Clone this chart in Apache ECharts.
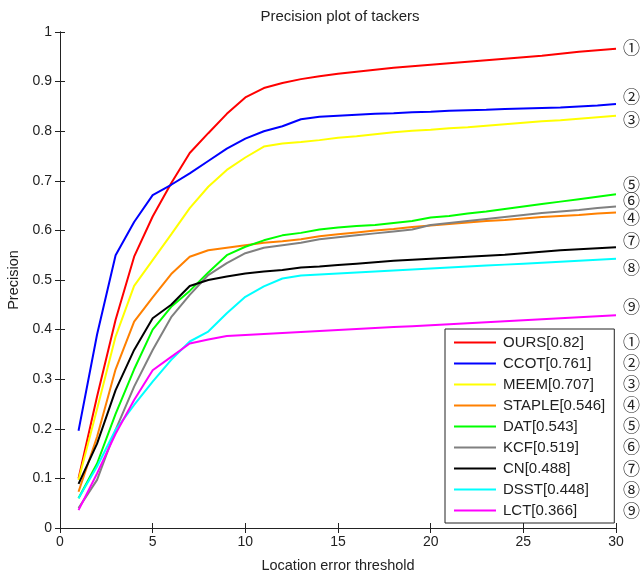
<!DOCTYPE html>
<html>
<head>
<meta charset="utf-8">
<script src="https://cdn.jsdelivr.net/npm/echarts@6/dist/echarts.min.js"></script>
<style>
  html, body { margin: 0; padding: 0; background: #fff; }
  #main { width: 642px; height: 574px; }
</style>
</head>
<body>
<div id="main"></div>
<script>
// location error thresholds (x)
const thresholds = [1, 2, 3, 4, 5, 6, 7, 8, 9, 10, 11, 12, 13, 14, 15, 16, 17, 18, 19, 20, 21, 22, 23, 24, 25, 26, 27, 28, 29, 30];

// precision values
const ours   = [0.100, 0.265, 0.420, 0.547, 0.628, 0.695, 0.756, 0.796, 0.835, 0.868, 0.887, 0.897, 0.905, 0.911, 0.916, 0.920, 0.924, 0.928, 0.931, 0.934, 0.937, 0.940, 0.943, 0.946, 0.949, 0.952, 0.956, 0.960, 0.963, 0.966];
const ccot   = [0.196, 0.390, 0.550, 0.617, 0.671, 0.692, 0.715, 0.740, 0.765, 0.785, 0.800, 0.810, 0.824, 0.829, 0.831, 0.833, 0.835, 0.836, 0.838, 0.839, 0.841, 0.842, 0.843, 0.845, 0.846, 0.847, 0.848, 0.850, 0.852, 0.855];
const meem   = [0.097, 0.240, 0.386, 0.488, 0.540, 0.592, 0.645, 0.688, 0.722, 0.747, 0.769, 0.775, 0.778, 0.782, 0.787, 0.790, 0.794, 0.798, 0.801, 0.803, 0.806, 0.808, 0.811, 0.814, 0.817, 0.820, 0.822, 0.825, 0.828, 0.831];
const staple = [0.073, 0.184, 0.320, 0.416, 0.465, 0.512, 0.547, 0.560, 0.565, 0.570, 0.575, 0.578, 0.582, 0.588, 0.592, 0.596, 0.600, 0.603, 0.607, 0.610, 0.613, 0.616, 0.619, 0.621, 0.624, 0.627, 0.629, 0.631, 0.634, 0.636];
const dat    = [0.060, 0.130, 0.230, 0.320, 0.400, 0.446, 0.478, 0.515, 0.550, 0.567, 0.580, 0.590, 0.595, 0.602, 0.606, 0.609, 0.611, 0.615, 0.619, 0.626, 0.629, 0.634, 0.638, 0.643, 0.648, 0.653, 0.658, 0.663, 0.668, 0.673];
const kcf    = [0.040, 0.097, 0.198, 0.285, 0.359, 0.425, 0.470, 0.510, 0.534, 0.554, 0.565, 0.570, 0.575, 0.582, 0.586, 0.590, 0.594, 0.598, 0.602, 0.611, 0.615, 0.619, 0.623, 0.627, 0.631, 0.635, 0.638, 0.641, 0.645, 0.648];
const cn     = [0.089, 0.170, 0.278, 0.359, 0.423, 0.450, 0.488, 0.500, 0.507, 0.513, 0.517, 0.520, 0.525, 0.527, 0.530, 0.533, 0.536, 0.539, 0.541, 0.543, 0.545, 0.547, 0.549, 0.551, 0.554, 0.557, 0.560, 0.562, 0.564, 0.566];
const dsst   = [0.060, 0.124, 0.198, 0.248, 0.295, 0.339, 0.376, 0.396, 0.433, 0.466, 0.487, 0.503, 0.509, 0.511, 0.513, 0.515, 0.517, 0.519, 0.521, 0.523, 0.525, 0.527, 0.529, 0.531, 0.533, 0.535, 0.537, 0.539, 0.541, 0.543];
const lct    = [0.036, 0.110, 0.190, 0.258, 0.318, 0.345, 0.372, 0.380, 0.387, 0.389, 0.391, 0.393, 0.395, 0.397, 0.399, 0.401, 0.403, 0.405, 0.407, 0.409, 0.411, 0.413, 0.415, 0.417, 0.419, 0.421, 0.423, 0.425, 0.427, 0.429];

const trackerNames = ['OURS[0.82]', 'CCOT[0.761]', 'MEEM[0.707]', 'STAPLE[0.546]', 'DAT[0.543]', 'KCF[0.519]', 'CN[0.488]', 'DSST[0.448]', 'LCT[0.366]'];
const trackerData = [ours, ccot, meem, staple, dat, kcf, cn, dsst, lct];
const colors = ['#ff0000', '#0000ff', '#ffff00', '#ff8000', '#00ff00', '#808080', '#000000', '#00ffff', '#ff00ff'];

// circled rank marks, right of the plot
const endMarks = ['①', '②', '③', '⑤', '⑥', '④', '⑦', '⑧', '⑨'];
const endMarkY = [48, 97, 120, 185, 201, 218, 241, 268, 307];
const legendMarks = ['①', '②', '③', '④', '⑤', '⑥', '⑦', '⑧', '⑨'];

const font = 'Liberation Sans, Arial, sans-serif';
const chart = echarts.init(document.getElementById('main'), null, { renderer: 'canvas' });

const series = trackerNames.map((name, i) => ({
    name: name,
    type: 'line',
    symbol: 'none',
    data: thresholds.map((t, j) => [t, trackerData[i][j]]),
    lineStyle: { color: colors[i], width: 2 },
    itemStyle: { color: colors[i] }
}));

const graphics = [];
endMarks.forEach((m, i) => {
    graphics.push({ type: 'text', left: 623, top: endMarkY[i] - 9,
        style: { text: m, font: '17px "Noto Sans CJK SC"', fill: '#222' } });
});
legendMarks.forEach((m, i) => {
    graphics.push({ type: 'text', left: 623, top: 342 + i * 21.1 - 9,
        style: { text: m, font: '17px "Noto Sans CJK SC"', fill: '#222' } });
});

chart.setOption({
    animation: false,
    backgroundColor: '#fff',
    title: {
        text: 'Precision plot of tackers',
        left: 335, top: 4, textAlign: 'center',
        textStyle: { fontFamily: font, fontSize: 15, fontWeight: 'normal', color: '#222' }
    },
    grid: { left: 60, top: 32, right: 26, bottom: 46, outerBoundsMode: 'none' },
    legend: {
        orient: 'vertical',
        left: 445, top: 329,
        padding: [6, 9, 5, 9],
        itemGap: 6,
        itemWidth: 42, itemHeight: 2,
        icon: 'rect',
        borderColor: '#222', borderWidth: 1,
        backgroundColor: '#fff',
        textStyle: { fontFamily: font, fontSize: 15, color: '#222', padding: [0, 0, 0, 2] },
        data: trackerNames
    },
    xAxis: [{
        type: 'value', min: 0, max: 30, interval: 5,
        name: 'Location error threshold', nameLocation: 'middle', nameGap: 30,
        nameTextStyle: { fontFamily: font, fontSize: 14.5, color: '#222' },
        axisLine: { lineStyle: { color: '#222', width: 1 } },
        axisTick: { inside: true, length: 5, lineStyle: { color: '#222' } },
        axisLabel: { fontFamily: font, fontSize: 14, color: '#222', margin: 7 },
        splitLine: { show: false }
    }, {
        type: 'value', min: 0, max: 30, interval: 5, position: 'top',
        axisLine: { show: true, lineStyle: { color: '#222', width: 1 } },
        axisTick: { show: true, inside: true, length: 5, lineStyle: { color: '#222' } },
        axisLabel: { show: false },
        splitLine: { show: false }
    }],
    yAxis: [{
        type: 'value', min: 0, max: 1, interval: 0.1,
        name: 'Precision', nameLocation: 'middle', nameGap: 37,
        nameTextStyle: { fontFamily: font, fontSize: 14.5, color: '#222' },
        axisLine: { show: true, lineStyle: { color: '#222', width: 1 } },
        axisTick: { show: true, inside: true, length: 5, lineStyle: { color: '#222' } },
        axisLabel: { fontFamily: font, fontSize: 14, color: '#222', margin: 8 },
        splitLine: { show: false }
    }, {
        type: 'value', min: 0, max: 1, interval: 0.1, position: 'right',
        axisLine: { show: true, lineStyle: { color: '#222', width: 1 } },
        axisTick: { show: true, inside: true, length: 5, lineStyle: { color: '#222' } },
        axisLabel: { show: false },
        splitLine: { show: false }
    }],
    graphic: graphics,
    series: series
});
</script>
</body>
</html>
